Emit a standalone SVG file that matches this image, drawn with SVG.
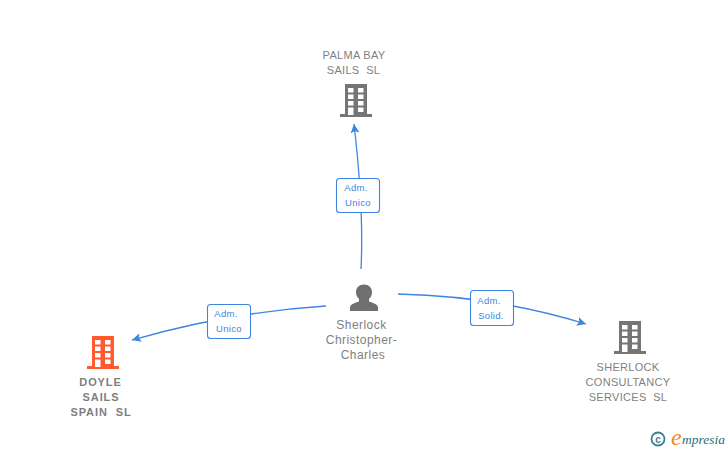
<svg xmlns="http://www.w3.org/2000/svg" width="728" height="450" viewBox="0 0 728 450">
<style>
.lbl{font-family:"Liberation Sans",Arial,sans-serif;font-size:11px;fill:#7f7f7f;text-anchor:middle;white-space:pre}
.co{letter-spacing:.3px}
.dy{font-weight:bold;letter-spacing:.9px}
.pn{font-size:12px;letter-spacing:.45px}
.edge{fill:none;stroke:#3d85e0;stroke-width:1.3}
.box{fill:#fff;stroke:#3d85e0;stroke-width:1.1}
.bt{font-family:"Liberation Sans",Arial,sans-serif;font-size:9.5px;fill:#3d85e0;text-anchor:middle;letter-spacing:.3px}
.win{fill:#fff}
</style>
<defs>
<marker id="arrow" markerWidth="10" markerHeight="10" refX="9" refY="4.500" orient="auto" markerUnits="userSpaceOnUse"><path d="M0 0L9 4.500L0 9L2 4.500Z" fill="#3d85e0"/></marker>
<g id="bld">
<path d="M-11-17H11V13H16V16H-16V13H-11Z"/>
<g class="win"><rect x="-8" y="-13" width="5.500" height="4.500"/><rect x="2" y="-13" width="5.500" height="4.500"/><rect x="-8" y="-6.500" width="5.500" height="4.500"/><rect x="2" y="-6.500" width="5.500" height="4.500"/><rect x="-8" y="0" width="5.500" height="4.500"/><rect x="2" y="0" width="5.500" height="4.500"/><rect x="-8" y="6.500" width="5.500" height="7.500"/><rect x="2" y="6.500" width="5.500" height="4.500"/></g>
</g>
</defs>
<g id="connectors">
<path class="edge" d="M361 269Q364 210 354 124" marker-end="url(#arrow)"/>
<path class="edge" d="M326 306Q230 312 132 340" marker-end="url(#arrow)"/>
<path class="edge" d="M398 294Q495 296 586 324" marker-end="url(#arrow)"/>
</g>
<g id="edge-label-1"><rect class="box" x="336.500" y="178.500" width="43" height="34" rx="3"/><text class="bt" x="356" y="191">Adm.</text><text class="bt" x="358" y="206">Unico</text></g>
<g id="edge-label-2"><rect class="box" x="207.500" y="304.500" width="43" height="34" rx="3"/><text class="bt" x="226" y="317">Adm.</text><text class="bt" x="229" y="332">Unico</text></g>
<g id="edge-label-3"><rect class="box" x="470.500" y="290.500" width="43" height="35" rx="3"/><text class="bt" x="489" y="304">Adm.</text><text class="bt" x="491" y="319">Solid.</text></g>
<g id="node-palma">
<text class="lbl co" x="354" y="59">PALMA BAY</text><text class="lbl co" x="353.500" y="74">SAILS  SL</text>
<use href="#bld" x="356" y="101" fill="#757575"/>
</g>
<g id="node-person">
<path d="M350 311v-4c1-3 5-4 9-5.500v-2.500c-2-2-3-4-3-7 0-4 3-7.500 8-7.500s8 3.500 8 7.500c0 3-1 5-3 7v2.500c4 1.500 8 2.500 9 5.500v4z" fill="#6f6f6f"/>
<text class="lbl pn" x="361.500" y="329">Sherlock</text>
<text class="lbl pn" x="361.500" y="344">Christopher-</text>
<text class="lbl pn" x="363" y="359">Charles</text>
</g>
<g id="node-doyle">
<use href="#bld" x="103" y="353" fill="#ff5a2d"/>
<text class="lbl dy" x="100.500" y="386">DOYLE</text><text class="lbl dy" x="101" y="401">SAILS</text><text class="lbl dy" x="101" y="416">SPAIN  SL</text>
</g>
<g id="node-sherlock">
<use href="#bld" x="630" y="338" fill="#757575"/>
<text class="lbl co" x="628" y="371">SHERLOCK</text><text class="lbl co" x="628" y="386">CONSULTANCY</text><text class="lbl co" x="628" y="401">SERVICES  SL</text>
</g>
<g id="logo">
<circle cx="658" cy="439" r="6.500" fill="none" stroke="#3d7f95" stroke-width="1.800"/>
<text x="658" y="442.500" font-family="Liberation Sans,sans-serif" font-size="10" font-weight="bold" fill="#3d7f95" text-anchor="middle">c</text>
<text x="671" y="445" font-family="Liberation Serif,serif" font-style="italic" font-size="24" fill="#f08a1d">e</text>
<text x="682" y="444" font-family="Liberation Serif,serif" font-style="italic" font-size="13.500" fill="#1f6f80">mpresia</text>
</g>
</svg>
